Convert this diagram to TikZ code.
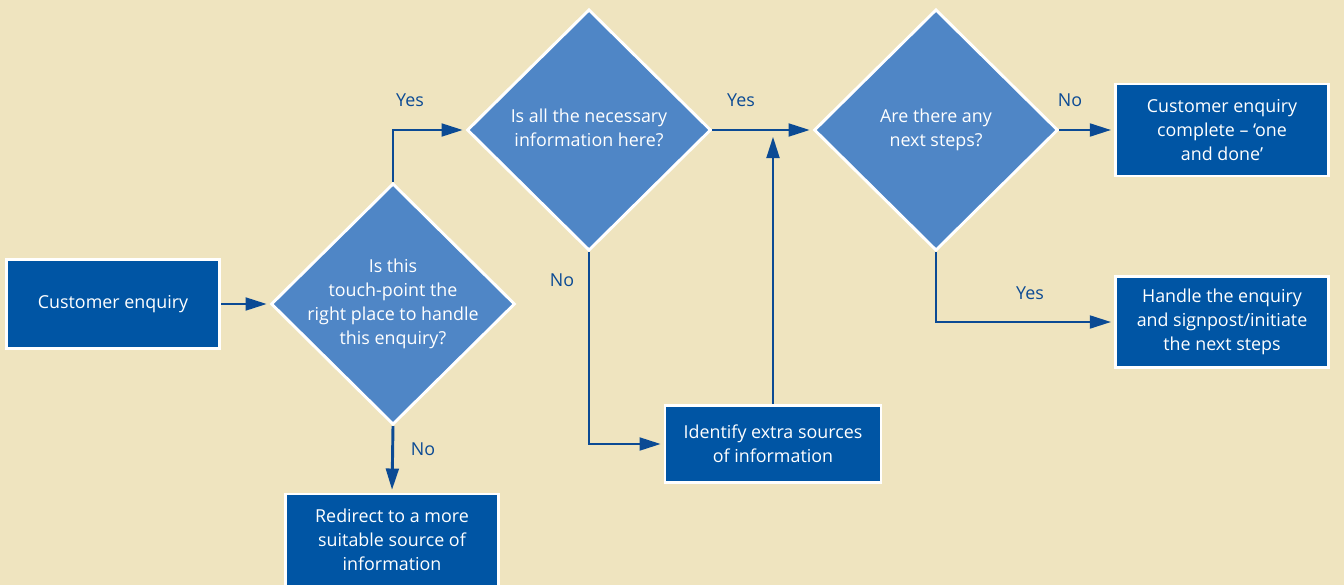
\documentclass[tikz,border=0pt]{standalone}
\usepackage{fontspec}
\setmainfont{Open Sans}
\usepackage{tikz}
\usetikzlibrary{positioning}
\usetikzlibrary{shapes.geometric}
\usetikzlibrary{arrows.meta}
\usepackage{xcolor}
\definecolor{bgbeige}{HTML}{EFE4BF}
\definecolor{boxblue}{HTML}{0055A4}
\definecolor{diablue}{HTML}{4F86C6}
\definecolor{linkblue}{HTML}{0B4A94}
\newcommand{\dlines}[1]{\makebox[0pt]{\begin{tabular}{@{}c@{}}#1\end{tabular}}}

\begin{document}
\begin{tikzpicture}[x=0.75pt, y=-0.75pt,
    every node/.style={font=\fontsize{13.4}{18}\selectfont},
    box/.style={rectangle, draw=white, line width=2.2pt, fill=boxblue, text=white, align=center, minimum width=160pt, inner sep=0pt},
    decision/.style={diamond, draw=white, line width=2.2pt, fill=diablue, text=white, minimum width=183pt, minimum height=181pt, inner sep=0pt},
    flow/.style={draw=linkblue, line width=2.2pt, shorten >=2pt, -{Triangle[length=16pt,width=9.5pt]}},
    answer/.style={text=linkblue}]
    % Background
    \fill[bgbeige] (0,0) rectangle (1344,585);
    \useasboundingbox (0,0) rectangle (1344,585);

    % Start
    \node[box, minimum height=67pt] (enq) at (113,304) {Customer enquiry};

    % Decisions
    \node[decision] (touch) at (393,304) {\dlines{Is this\\touch-point the\\right place to handle\\this enquiry?}};
    \node[decision] (info) at (589,130) {\dlines{Is all the necessary\\information here?}};
    \node[decision] (next) at (936,130) {\dlines{Are there any\\next steps?}};

    % Outcomes
    \node[box, minimum height=69pt] (done) at (1222,130) {Customer enquiry\\complete -- `one\\and done'};
    \node[box, minimum height=68pt] (handle) at (1222,322) {Handle the enquiry\\and signpost/initiate\\the next steps};
    \node[box, minimum width=162pt, minimum height=58pt] (extra) at (773,444) {Identify extra sources\\of information};
    \node[box, minimum height=69pt] (redirect) at (392,540) {Redirect to a more\\suitable source of\\information};

    % Connections
    \draw[flow] (enq) -- (touch);
    \draw[flow] (touch.north) |- (info.west);
    \draw[flow] (info.east) -- (next.west);
    \draw[flow] (next.east) -- (done.west);
    \draw[flow] (next.south) |- (handle.west);
    \draw[flow] (info.south) |- (extra.west);
    \coordinate (merge) at (extra.north |- info.east);
    \draw[flow, shorten >=5pt] (extra.north) -- (merge);
    \draw[flow] (touch.south) -- (redirect.north);

    % Labels
    \node[answer] (yes1) at (410,100) {Yes};
    \node[answer] (yes2) at (741,100) {Yes};
    \node[answer] (no3) at (1070,100) {No};
    \node[answer] (yes3) at (1030,293) {Yes};
    \node[answer] (no2) at (562,280) {No};
    \node[answer] (no1) at (423,449) {No};
\end{tikzpicture}
\end{document}
